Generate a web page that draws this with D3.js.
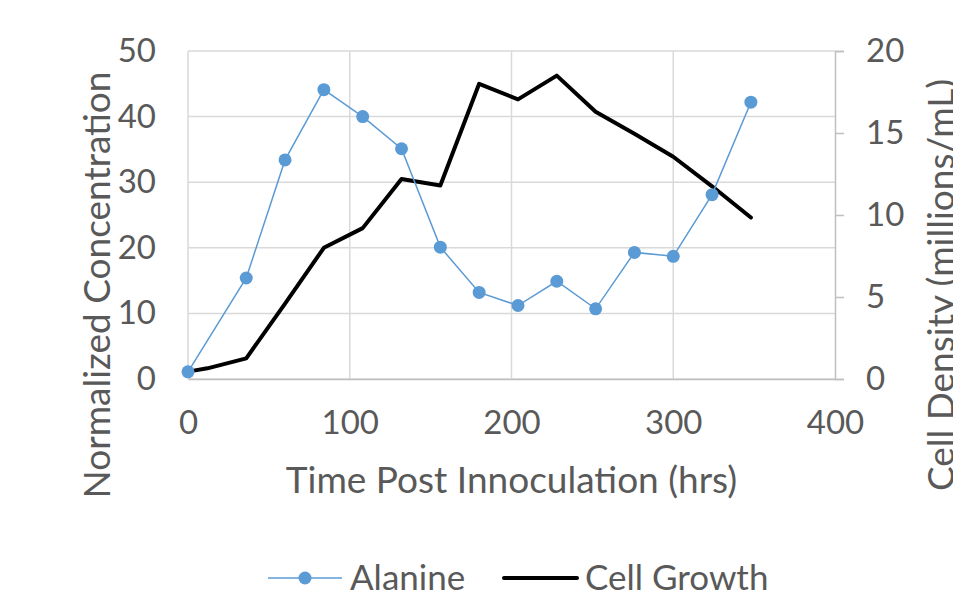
<!DOCTYPE html>
<meta charset="utf-8">
<style>
  body {
    margin: 0;
    background: #fff;
  }

  svg text {
    font-family: Lato, "Open Sans", sans-serif;
    fill: #595959;
  }

  .grid line {
    stroke: #d9d9d9;
    stroke-width: 1.5;
  }

  .axis path,
  .axis line {
    stroke: #bfbfbf;
    stroke-width: 1.5;
  }
</style>

<body>
  <svg width="953" height="598"></svg>
</body>
<script src="https://d3js.org/d3.v7.min.js"></script>
<script>
  // data
  var alanineTime = [0, 36, 60, 84, 108, 132, 156, 180, 204, 228, 252, 276, 300, 324, 348];
  var alanineValue = [1.1, 15.4, 33.4, 44.1, 40.0, 35.1, 20.1, 13.2, 11.2, 14.9, 10.7, 19.3, 18.7, 28.1, 42.2];

  var growthTime = [0, 12, 36, 60, 84, 108, 132, 156, 180, 204, 228, 252, 276, 300, 324, 348];
  var growthValue = [0.45, 0.65, 1.26, 4.6, 8.0, 9.2, 12.2, 11.8, 18.0, 17.05, 18.5, 16.3, 14.95, 13.55, 11.75, 9.85];

  var xTicks = [0, 100, 200, 300, 400];
  var yLeftTicks = [0, 10, 20, 30, 40, 50];
  var yRightTicks = [0, 5, 10, 15, 20];

  var svg = d3.select("svg"),
    margin = {
      top: 51,
      right: 118,
      bottom: 219,
      left: 188
    },
    width = +svg.attr("width") - margin.left - margin.right,
    height = +svg.attr("height") - margin.top - margin.bottom;

  var x = d3.scaleLinear().domain([0, 400]).range([0, width]),
    y = d3.scaleLinear().domain([0, 50]).range([height, 0]),
    y2 = d3.scaleLinear().domain([0, 20]).range([height, 0]);

  var g = svg.append("g")
    .attr("transform", "translate(" + margin.left + "," + margin.top + ")");

  // gridlines
  var grid = g.append("g").attr("class", "grid");
  grid.selectAll("line.h")
    .data(yLeftTicks)
    .enter().append("line")
    .attr("class", "h")
    .attr("x1", 0)
    .attr("x2", width)
    .attr("y1", function (d) { return y(d); })
    .attr("y2", function (d) { return y(d); });
  grid.selectAll("line.v")
    .data(xTicks.slice(0, -1))
    .enter().append("line")
    .attr("class", "v")
    .attr("y1", 0)
    .attr("y2", height)
    .attr("x1", function (d) { return x(d); })
    .attr("x2", function (d) { return x(d); });

  // axes
  var xAxis = g.append("g")
    .attr("class", "axis")
    .attr("transform", "translate(0," + height + ")")
    .call(d3.axisBottom(x).tickValues(xTicks).tickSize(0).tickPadding(32));
  xAxis.selectAll("text").style("font-size", "33px");

  var yAxis = g.append("g")
    .attr("class", "axis")
    .call(d3.axisLeft(y).tickValues(yLeftTicks).tickSize(0).tickPadding(32));
  yAxis.select(".domain").remove();
  yAxis.selectAll("text").style("font-size", "33px");

  var y2Axis = g.append("g")
    .attr("class", "axis")
    .attr("transform", "translate(" + width + ",0)")
    .call(d3.axisRight(y2).tickValues(yRightTicks).tickSize(9).tickSizeOuter(9).tickPadding(22));
  y2Axis.selectAll("text").style("font-size", "33px");

  // axis titles
  svg.append("text")
    .attr("x", margin.left + width / 2)
    .attr("y", 493)
    .attr("text-anchor", "middle")
    .style("font-size", "37px")
    .text("Time Post Innoculation (hrs)");

  svg.append("text")
    .attr("transform", "translate(110,285) rotate(-90)")
    .attr("text-anchor", "middle")
    .style("font-size", "37px")
    .text("Normalized Concentration");

  svg.append("text")
    .attr("transform", "translate(954,285) rotate(-90)")
    .attr("text-anchor", "middle")
    .style("font-size", "37px")
    .text("Cell Density (millions/mL)");

  // lines
  var alanine = alanineTime.map(function (t, i) { return [t, alanineValue[i]]; });
  var growth = growthTime.map(function (t, i) { return [t, growthValue[i]]; });

  g.append("path")
    .datum(growth)
    .attr("fill", "none")
    .attr("stroke", "#000")
    .attr("stroke-width", 4)
    .attr("stroke-linejoin", "round")
    .attr("stroke-linecap", "round")
    .attr("d", d3.line()
      .x(function (d) { return x(d[0]); })
      .y(function (d) { return y2(d[1]); }));

  g.append("path")
    .datum(alanine)
    .attr("fill", "none")
    .attr("stroke", "#5b9bd5")
    .attr("stroke-width", 1.5)
    .attr("d", d3.line()
      .x(function (d) { return x(d[0]); })
      .y(function (d) { return y(d[1]); }));

  g.selectAll(".dot")
    .data(alanine)
    .enter().append("circle")
    .attr("class", "dot")
    .attr("cx", function (d) { return x(d[0]); })
    .attr("cy", function (d) { return y(d[1]); })
    .attr("r", 6.5)
    .attr("fill", "#5b9bd5");

  // legend
  var legend = svg.append("g").attr("transform", "translate(0,578)");
  legend.append("line")
    .attr("x1", 268).attr("x2", 342)
    .attr("stroke", "#5b9bd5").attr("stroke-width", 1.5);
  legend.append("circle")
    .attr("cx", 305).attr("r", 6.5).attr("fill", "#5b9bd5");
  legend.append("text")
    .attr("x", 350).attr("dy", "0.35em")
    .style("font-size", "35px")
    .text("Alanine");
  legend.append("line")
    .attr("x1", 504).attr("x2", 577)
    .attr("stroke", "#000").attr("stroke-width", 4).attr("stroke-linecap", "round");
  legend.append("text")
    .attr("x", 585).attr("dy", "0.35em")
    .style("font-size", "35px")
    .text("Cell Growth");
</script>
